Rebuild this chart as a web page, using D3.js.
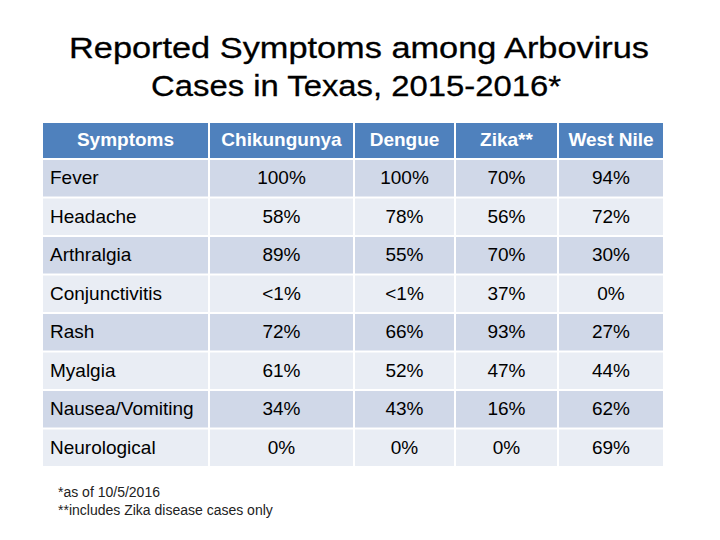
<!DOCTYPE html>
<html><head><meta charset="utf-8">
<script src="https://cdn.jsdelivr.net/npm/d3@7"></script>
<style>html,body{margin:0;padding:0;background:#fff;}svg{display:block;}</style>
</head><body>
<script>
const titleLines = ["Reported Symptoms among Arbovirus", "Cases in Texas, 2015-2016*"];
const headers = ["Symptoms", "Chikungunya", "Dengue", "Zika**", "West Nile"];
const symptoms = ["Fever","Headache","Arthralgia","Conjunctivitis","Rash","Myalgia","Nausea/Vomiting","Neurological"];
const chikungunya = ["100%","58%","89%","<1%","72%","61%","34%","0%"];
const dengue      = ["100%","78%","55%","<1%","66%","52%","43%","0%"];
const zika        = ["70%","56%","70%","37%","93%","47%","16%","0%"];
const westNile    = ["94%","72%","30%","0%","27%","44%","62%","69%"];
const footnotes = ["*as of 10/5/2016", "**includes Zika disease cases only"];

const W = 720, H = 540;
const svg = d3.select("body").append("svg").attr("width", W).attr("height", H);
const font = "Arial, 'Liberation Sans', sans-serif";

// title
const titleX = [359, 356], titleLen = [580, 410];
svg.selectAll("text.title").data(titleLines).enter().append("text")
  .attr("class","title")
  .attr("x", (d,i) => titleX[i]).attr("y", (d,i) => 58 + i*38)
  .attr("text-anchor","middle").attr("font-family",font).attr("font-size",30)
  .attr("textLength",(d,i)=>titleLen[i]).attr("lengthAdjust","spacingAndGlyphs")
  .attr("stroke","#000").attr("stroke-width",0.3)
  .attr("fill","#000").text(d => d);

// columns
const colEdges = [43, 210, 355, 456, 559, 665];
const colIdx = d3.range(headers.length);
const xLeft = d3.scaleOrdinal().domain(colIdx).range(colEdges.slice(0,-1));
const xWidth = i => colEdges[i+1] - colEdges[i];
const gap = 2;

// header
const headerTop = 123, headerBottom = 159;
const hg = svg.append("g");
hg.selectAll("rect").data(headers).enter().append("rect")
  .attr("x",(d,i)=>xLeft(i)).attr("y",headerTop)
  .attr("width",(d,i)=>xWidth(i)-gap).attr("height",headerBottom-headerTop-gap/2)
  .attr("fill","#4F81BD");
hg.selectAll("text").data(headers).enter().append("text")
  .attr("x",(d,i)=>xLeft(i)+(xWidth(i)-gap)/2).attr("y",146)
  .attr("text-anchor","middle").attr("font-family",font).attr("font-size",19)
  .attr("font-weight","bold").attr("fill","#fff").text(d=>d);

// rows
const y = d3.scaleBand().domain(symptoms).range([159, 467]).paddingInner(0);
const series = [chikungunya, dengue, zika, westNile];
const rows = svg.selectAll("g.row").data(symptoms).enter().append("g")
  .attr("class","row")
  .attr("transform", d => `translate(0,${y(d)})`);
rows.each(function(s, r){
  const g = d3.select(this);
  const cells = [s].concat(series.map(a => a[r]));
  g.selectAll("rect").data(cells).enter().append("rect")
    .attr("x",(d,i)=>xLeft(i)).attr("y", gap/2)
    .attr("width",(d,i)=>xWidth(i)-gap).attr("height", y.bandwidth()-gap)
    .attr("fill", r % 2 === 0 ? "#D0D8E8" : "#E9EDF4");
  g.selectAll("text").data(cells).enter().append("text")
    .attr("x",(d,i)=> i===0 ? xLeft(i)+7 : xLeft(i)+(xWidth(i)-gap)/2)
    .attr("y", y.bandwidth()/2 + 6)
    .attr("text-anchor",(d,i)=> i===0 ? "start" : "middle")
    .attr("font-family",font).attr("font-size",19).attr("fill","#000")
    .text(d=>d);
});

// footnotes
svg.selectAll("text.fn").data(footnotes).enter().append("text")
  .attr("class","fn")
  .attr("x",58).attr("y",(d,i)=>497+i*18)
  .attr("font-family",font).attr("font-size",14).attr("fill","#222").text(d=>d);
</script>
</body></html>
